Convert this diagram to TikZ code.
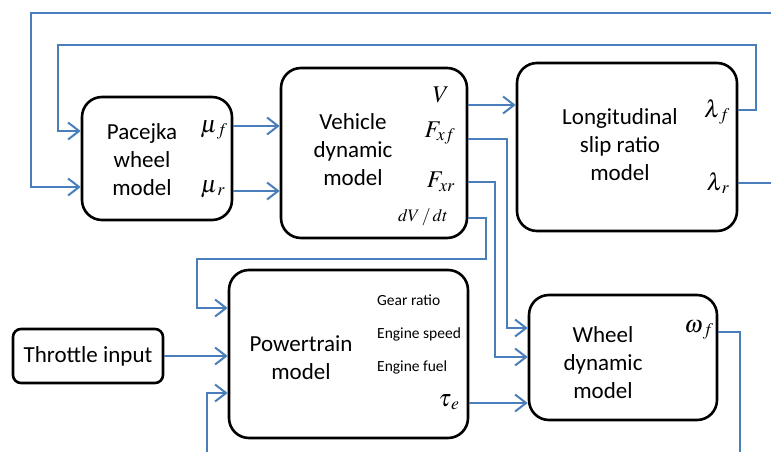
\documentclass[tikz,border=0pt]{standalone}
\usepackage{mathptmx}
\usepackage{fontspec}
\setmainfont{Carlito}
\usepackage{xcolor}
\usepackage{tikz}
\usetikzlibrary{arrows.meta,calc,positioning}
\definecolor{flowblue}{RGB}{74,126,187}
\tikzset{
  box/.style={draw,line width=2.6pt,rounded corners=20pt,align=center,inner sep=0pt},
  flow/.style={draw=flowblue,line width=2pt},
  arr/.style={flow,-{Straight Barb[length=11pt,width=17pt,line width=2pt]}},
  txt/.style={align=center,font=\fontsize{23}{28}\selectfont},
  var/.style={font=\fontsize{24}{28}\selectfont,inner sep=0pt},
  small/.style={font=\fontsize{15.5}{18}\selectfont,anchor=west,inner sep=0pt}
}
\begin{document}
\begin{tikzpicture}[x=1pt,y=-1pt]
		\useasboundingbox (0,0) rectangle (771,452);
		% blocks
		\node[box,minimum width=150pt,minimum height=123pt] (pacejka) at (157,158.5) {};
		\node[box,minimum width=186pt,minimum height=170pt] (vehicle) at (374,153) {};
		\node[box,minimum width=220pt,minimum height=168pt] (slip) at (627,147) {};
		\node[box,minimum width=239pt,minimum height=168pt] (power) at (348.5,354) {};
		\node[box,rounded corners=8pt,minimum width=150pt,minimum height=54pt] (throttle) at (88,356) {};
		\node[box,minimum width=188pt,minimum height=125pt] (wheel) at (623,357.5) {};
		% texts
		\node[txt] (pacejkaT) at (142,160) {Pacejka\\wheel\\model};
		\node[txt] (vehicleT) at (353,150) {Vehicle\\dynamic\\model};
		\node[txt] (slipT) at (620,145) {Longitudinal\\slip ratio\\model};
		\node[txt] (powerT) at (301,358) {Powertrain\\model};
		\node[txt] (throttleT) at (88,356) {Throttle input};
		\node[txt] (wheelT) at (603,363) {Wheel\\dynamic\\model};
		\node[small] (gear) at (377,300) {Gear ratio};
		\node[small] (espeed) at (377,334) {Engine speed};
		\node[small] (efuel) at (377,367) {Engine fuel};
		% variables
		\node[var] (muf) at (214,130) {$\mu_{\,f}$};
		\node[var] (mur) at (213,189) {$\mu_{\,r}$};
		\node[var] (V) at (441,95) {$V$};
		\node[var] (Fxf) at (440,133) {$F_{xf}$};
		\node[var] (Fxr) at (441,182) {$F_{xr}$};
		\node[var,font=\fontsize{17.5}{21}\selectfont] (dVdt) at (423,217) {$dV\,/\,dt$};
		\node[var] (lamf) at (717,112) {$\lambda_{\,f}$};
		\node[var] (lamr) at (718,183) {$\lambda_{\,r}$};
		\node[var] (taue) at (449,402) {$\tau_{\,e}$};
		\node[var] (omf) at (699,330) {$\omega_{\,f}$};
		% free ends
		\coordinate (topIn) at (771,13);
		\coordinate (lamrOut) at (771,183);
		\coordinate (botIn) at (207,452);
		\coordinate (omOut) at (740,452);
		% connectors
		\draw[arr] (topIn) -| (31,187) -- (pacejka.west |- 0,187);
		\draw[arr] (slip.east |- 0,110) -- (756,110) |- (58,45) -- (58,131) -- (pacejka.west |- 0,131);
		\draw[arr] (pacejka.east |- 0,126) -- (vehicle.west |- 0,126);
		\draw[arr] (pacejka.east |- 0,191) -- (vehicle.west |- 0,191);
		\draw[arr] (vehicle.east |- 0,105) -- (slip.west |- 0,105);
		\draw[arr] (vehicle.east |- 0,139) -| (507,328) -- (wheel.west |- 0,328);
		\draw[arr] (vehicle.east |- 0,182) -| (495,357) -- (wheel.west |- 0,357);
		\draw[arr] (vehicle.east |- 0,218) -| (486,259) -| (197,308) -- (power.west |- 0,308);
		\draw[arr] (throttle.east) -- (power.west |- throttle.east);
		\draw[arr] (botIn) |- (power.west |- 0,393);
		\draw[arr] (power.east |- 0,403) -- (wheel.west |- 0,403);
		\draw[flow] (wheel.east |- 0,332) -| (omOut);
		\draw[flow] (slip.east |- 0,183) -- (lamrOut);
\end{tikzpicture}
\end{document}
